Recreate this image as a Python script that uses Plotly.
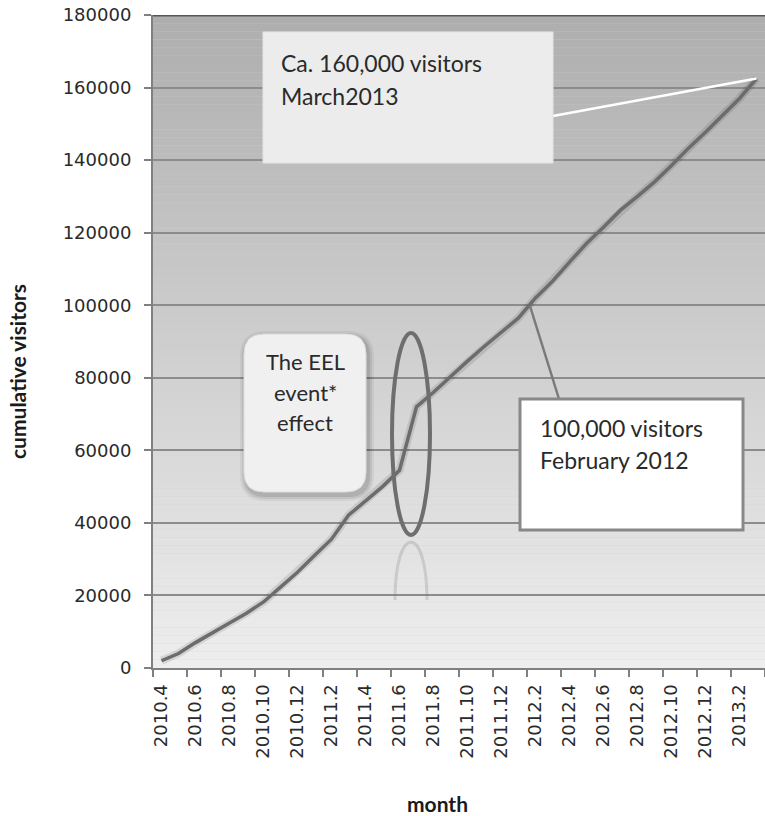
import plotly.graph_objects as go

# ---------------- data ----------------
months = [
    "2010.4", "2010.5", "2010.6", "2010.7", "2010.8", "2010.9", "2010.10", "2010.11",
    "2010.12", "2011.1", "2011.2", "2011.3", "2011.4", "2011.5", "2011.6", "2011.7",
    "2011.8", "2011.9", "2011.10", "2011.11", "2011.12", "2012.1", "2012.2", "2012.3",
    "2012.4", "2012.5", "2012.6", "2012.7", "2012.8", "2012.9", "2012.10", "2012.11",
    "2012.12", "2013.1", "2013.2", "2013.3",
]
visitors = [
    2000, 4000, 7000, 9600, 12400, 15100, 18200, 22300,
    26400, 31000, 35500, 42100, 46200, 50000, 54500, 72000,
    76000, 80400, 84600, 88700, 92500, 96500, 102000, 106600,
    111900, 117000, 121500, 126200, 130000, 134000, 138500, 143300,
    147700, 152400, 157000, 162500,
]
y_ticks = [0, 20000, 40000, 60000, 80000, 100000, 120000, 140000, 160000, 180000]
label_idx = list(range(0, len(months), 2))
label_text = [months[i] for i in label_idx]

# --------------- geometry helpers (pixel -> data) ---------------
W, H = 765, 816
L, R, T, B = 153, 0, 15, 148
plot_w = W - L - R
plot_h = H - T - B
n = len(months)
YMAX = 180000


def px2x(px):
    return (px - L) / plot_w * n - 0.5


def py2y(py):
    return (T + plot_h - py) / plot_h * YMAX


def pxp(px):
    return (px - L) / plot_w


def pyp(py):
    return (T + plot_h - py) / plot_h


fig = go.Figure()

# gradient background (bands, below grid)
shapes = []
nb = 80
top_c, bot_c = 174, 238
for k in range(nb):
    c = int(round(top_c + (bot_c - top_c) * (k + 0.5) / nb))
    y1 = YMAX - YMAX * k / nb
    y0 = YMAX - YMAX * (k + 1) / nb
    shapes.append(dict(type="rect", xref="paper", yref="y", x0=0, x1=1, y0=y0, y1=y1,
                       fillcolor=f"rgb({c},{c},{c})", line=dict(width=0), layer="below"))

# line shadow + main line
x_idx = list(range(n))
fig.add_trace(go.Scatter(x=x_idx, y=visitors, mode="lines",
                         line=dict(color="rgba(0,0,0,0.10)", width=8),
                         hoverinfo="skip", showlegend=False))
fig.add_trace(go.Scatter(x=x_idx, y=visitors, mode="lines",
                         line=dict(color="#6c6c6c", width=3.5),
                         showlegend=False))

# top border line
shapes.append(dict(type="line", xref="paper", yref="y", x0=0, x1=1, y0=YMAX, y1=YMAX,
                   line=dict(color="#555555", width=3)))

# ---- callout 1: Ca. 160,000 visitors ----
shapes.append(dict(type="line", x0=px2x(553), y0=py2y(116), x1=x_idx[-1], y1=visitors[-1],
                   line=dict(color="#ffffff", width=2.5)))
shapes.append(dict(type="rect", x0=px2x(263), x1=px2x(553), y0=py2y(163), y1=py2y(32),
                   fillcolor="#ececec", line=dict(color="#e4e4e4", width=1)))

# ---- EEL rounded box with shadow ----
def rrect(x0p, y0p, x1p, y1p, r):
    xa, xb = px2x(x0p), px2x(x1p)
    ya, yb = py2y(y0p), py2y(y1p)  # ya top, yb bottom
    rx = px2x(x0p + r) - xa
    ry = py2y(y0p) - py2y(y0p + r)
    return (f"M {xa+rx},{ya} L {xb-rx},{ya} Q {xb},{ya} {xb},{ya-ry} "
            f"L {xb},{yb+ry} Q {xb},{yb} {xb-rx},{yb} L {xa+rx},{yb} "
            f"Q {xa},{yb} {xa},{yb+ry} L {xa},{ya-ry} Q {xa},{ya} {xa+rx},{ya} Z")

for g, a in [(6, 0.05), (4, 0.07), (2, 0.09)]:
    shapes.append(dict(type="path", path=rrect(244 - g + 2, 334 - g + 3, 366 + g + 2, 492 + g + 3, 20 + g),
                       fillcolor=f"rgba(0,0,0,{a})", line=dict(width=0)))
shapes.append(dict(type="path", path=rrect(244, 334, 366, 492, 20),
                   fillcolor="#f0f0f0", line=dict(color="#dcdcdc", width=1)))

# ---- ellipse and reflection ----
shapes.append(dict(type="circle", x0=px2x(392), x1=px2x(430), y0=py2y(535), y1=py2y(333),
                   line=dict(color="#6e6e6e", width=4)))
shapes.append(dict(type="path",
                   path=(f"M {px2x(395)},{py2y(600)} C {px2x(395)},{py2y(523)} "
                         f"{px2x(427)},{py2y(523)} {px2x(427)},{py2y(600)}"),
                   line=dict(color="rgba(110,110,110,0.22)", width=3)))

# ---- callout 3: 100,000 visitors ----
shapes.append(dict(type="line", x0=px2x(530), y0=py2y(306), x1=px2x(559), y1=py2y(399),
                   line=dict(color="#7a7a7a", width=2.5)))
shapes.append(dict(type="rect", x0=px2x(520), x1=px2x(743), y0=py2y(530), y1=py2y(399),
                   fillcolor="#ffffff", line=dict(color="#888888", width=3)))

TXT = dict(family="Lato, Open Sans, sans-serif", size=23, color="#2a2a2a")
TXT_EEL = dict(family="Lato, Open Sans, sans-serif", size=22, color="#2a2a2a")
annotations = []


def add_text(txt, xp, yp, anchor="left", font=TXT):
    annotations.append(dict(text=txt, x=px2x(xp), y=py2y(yp), xref="x", yref="y",
                            showarrow=False, xanchor=anchor, yanchor="middle", font=font))


add_text("Ca. 160,000 visitors", 279, 63)
add_text("March2013", 279, 96)
add_text("The EEL", 305, 361, "center", TXT_EEL)
add_text("event*", 305, 392, "center", TXT_EEL)
add_text("effect", 305, 422, "center", TXT_EEL)
add_text("100,000 visitors", 538, 428)
add_text("February 2012", 538, 460)

# axis titles
TITLE = dict(family="Lato, Open Sans, sans-serif", size=21, color="#1a1a1a")
annotations.append(dict(text="<b>cumulative visitors</b>", x=pxp(18), y=pyp(372),
                        xref="paper", yref="paper", showarrow=False, textangle=-90,
                        xanchor="center", yanchor="middle", font=TITLE))
annotations.append(dict(text="<b>month</b>", x=pxp(437), y=pyp(803),
                        xref="paper", yref="paper", showarrow=False,
                        xanchor="center", yanchor="middle", font=TITLE))

fig.update_layout(
    width=W, height=H,
    margin=dict(l=L, r=R, t=T, b=B, pad=0),
    paper_bgcolor="#ffffff",
    plot_bgcolor="#d0d0d0",
    shapes=shapes,
    annotations=annotations,
    showlegend=False,
    xaxis=dict(
        range=[-0.5, n - 0.5],
        tickmode="array", tickvals=label_idx, ticktext=label_text,
        tickangle=-90, ticks="outside", ticklen=7, tickcolor="rgba(0,0,0,0)",
        tickfont=dict(family="DejaVu Sans", size=18, color="#2a2a2a"),
        showgrid=False, zeroline=False,
        showline=True, linecolor="#808080", linewidth=2,
        minor=dict(tickmode="array", tickvals=[i - 0.5 for i in range(0, n + 1, 2)],
                   ticks="outside", ticklen=7, tickwidth=2, tickcolor="#808080", showgrid=False),
    ),
    yaxis=dict(
        range=[0, YMAX],
        tickmode="array", tickvals=y_ticks, tickformat="d",
        ticks="outside", ticklen=7, tickwidth=2, tickcolor="#808080",
        ticklabelstandoff=9,
        tickfont=dict(family="DejaVu Sans", size=18, color="#2a2a2a"),
        showgrid=True, gridcolor="#8c8c8c", gridwidth=2,
        zeroline=False,
        showline=True, linecolor="#808080", linewidth=2,
    ),
)

fig.write_html("out.html")
